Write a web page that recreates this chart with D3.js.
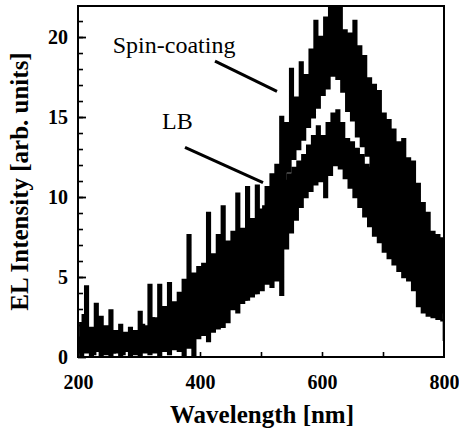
<!DOCTYPE html>
<html>
<head>
<meta charset="utf-8">
<script src="https://cdn.jsdelivr.net/npm/d3@7"></script>
<style>
  body { margin: 0; background: #fff; }
  svg { display: block; }
  .tick text { font-family: "Liberation Serif", "Times New Roman", serif; font-weight: bold; font-size: 20px; fill: #000; }
</style>
</head>
<body>
<div id="chart"></div>
<script>
// wavelength grid: 200..800 nm, 4 nm step
var wlStart = 200, wlStep = 4;

// EL intensity, spin-coated film
var spinValues = [
  0.3, 2.1, 0.6, 4.4, 0.9, 1.8, 0.2, 3.3, 0.8, 2.5,
  0.4, 1.9, 0.7, 2.9, 0.3, 1.6, 0.6, 2.0, 0.2, 1.5,
  0.5, 1.8, 0.3, 1.6, 0.8, 2.8, 0.4, 1.9, 1.0, 4.5,
  0.6, 2.4, 1.1, 4.5, 0.5, 3.1, 1.2, 4.6, 0.9, 3.4,
  1.4, 4.0, 1.1, 4.8, 1.6, 7.6, 1.3, 5.2, 2.0, 5.6,
  2.2, 5.8, 2.0, 9.0, 2.6, 6.4, 2.4, 7.6, 3.0, 9.4,
  2.8, 7.2, 3.4, 7.8, 3.2, 10.2, 3.8, 8.0, 3.6, 10.6,
  4.2, 8.6, 4.0, 10.7, 4.6, 9.2, 5.2, 10.6, 5.6, 11.4,
  6.6, 12.0, 7.8, 15.0, 10.4, 14.6, 11.6, 18.0, 12.4, 16.2,
  13.0, 18.4, 13.6, 17.6, 14.4, 19.2, 15.0, 21.0, 15.6, 20.0,
  16.4, 21.2, 16.8, 22.6, 17.6, 23.0, 17.4, 22.4, 16.6, 20.4,
  15.4, 20.2, 14.8, 21.0, 13.8, 19.4, 13.2, 18.8, 12.6, 17.4,
  10.6, 17.0, 10.4, 16.6, 9.8, 15.2, 9.4, 14.8, 8.6, 14.2,
  8.0, 13.4, 7.6, 13.6, 6.8, 12.4, 6.0, 12.2, 5.4, 10.8,
  4.6, 9.6, 4.0, 9.0, 3.4, 7.8, 3.0, 7.6, 2.8, 7.4,
  2.4
];

// LB film
var lbValues = [
  1.2, 0.1, 2.6, 0.3, 1.4, 0.0, 1.7, 0.4, 1.2, 0.1,
  1.5, 0.2, 1.1, 0.0, 1.6, 0.3, 1.2, 0.1, 1.4, 0.4,
  1.1, 0.0, 1.5, 0.2, 1.3, 0.1, 2.0, 0.3, 1.6, 0.2,
  2.4, 0.3, 1.8, 0.1, 2.6, 0.4, 2.2, 0.2, 3.0, 0.5,
  2.8, 0.4, 3.4, 0.0, 3.6, 0.6, 3.2, 0.0, 4.0, 1.2,
  4.4, 1.4, 4.6, 1.0, 5.2, 1.6, 5.0, 1.8, 5.8, 1.9,
  6.0, 2.2, 6.4, 3.0, 6.8, 2.8, 7.2, 3.4, 7.0, 3.6,
  7.6, 3.8, 8.2, 4.0, 9.0, 4.2, 9.4, 4.6, 9.8, 4.4,
  10.2, 4.8, 10.6, 3.9, 11.0, 6.8, 11.4, 7.8, 11.8, 8.6,
  12.2, 9.4, 12.6, 10.0, 13.2, 10.4, 13.8, 10.8, 14.4, 11.0,
  13.8, 10.0, 14.6, 11.4, 15.2, 12.0, 15.4, 11.8, 14.6, 11.2,
  13.6, 10.6, 13.4, 10.0, 13.0, 9.4, 12.6, 8.8, 12.0, 8.2,
  11.8, 7.6, 11.2, 7.2, 10.8, 6.6, 10.2, 6.2, 9.2, 5.8,
  9.0, 5.4, 8.6, 5.0, 8.0, 4.8, 7.6, 4.2, 7.2, 3.2,
  7.0, 2.8, 6.8, 2.6, 6.4, 2.5, 6.6, 2.4, 6.2, 2.3,
  1.0
];

var xTicks = [200, 400, 600, 800];
var yTicks = [0, 5, 10, 15, 20];

// labels with leader lines, in data units
var labels = [
  {text: "Spin-coating", wl: 257, val: 19.0, from: [424.6, 18.5], to: [526.2, 16.6]},
  {text: "LB", wl: 337.7, val: 14.25, from: [375.4, 13.1], to: [503.3, 10.9]}
];

var W = 459, H = 430;
var margin = {top: 6, right: 15, bottom: 73, left: 78};
var serif = '"Liberation Serif", "Times New Roman", serif';

var x = d3.scaleLinear().domain([200, 800]).range([margin.left, W - margin.right]);
var y = d3.scaleLinear().domain([0, 21.94]).range([H - margin.bottom, margin.top]);

var svg = d3.select("#chart").append("svg")
  .attr("width", W)
  .attr("height", H);

svg.append("clipPath").attr("id", "plot")
  .append("rect")
    .attr("x", x(200)).attr("y", y.range()[1])
    .attr("width", x(800) - x(200)).attr("height", y.range()[0] - y.range()[1]);

function toRows(values) {
  return values.map(function(v, i) { return {wl: wlStart + i * wlStep, v: v}; });
}

var line = d3.line()
  .x(function(d) { return x(d.wl); })
  .y(function(d) { return y(d.v); })
  .curve(d3.curveStepAfter);

[spinValues, lbValues].forEach(function(vals) {
  svg.append("path")
    .datum(toRows(vals))
    .attr("clip-path", "url(#plot)")
    .attr("fill", "none")
    .attr("stroke", "#000")
    .attr("stroke-width", 2.7)
    .attr("d", line);
});

// minor y ticks every unit
svg.append("g")
  .attr("transform", "translate(" + x(200) + ",0)")
  .call(d3.axisRight(y).tickValues(d3.range(1, 22)).tickSize(5).tickFormat(""))
  .call(function(g) { g.select(".domain").remove(); g.selectAll("line").attr("stroke-width", 1.6); });

// major y ticks + labels
svg.append("g")
  .attr("transform", "translate(" + x(200) + ",0)")
  .call(d3.axisLeft(y).tickValues(yTicks).tickSize(-8).tickPadding(10))
  .call(function(g) { g.select(".domain").remove(); g.selectAll("line").attr("stroke-width", 1.8); });

// x ticks + labels
svg.append("g")
  .attr("transform", "translate(0," + y(0) + ")")
  .call(d3.axisBottom(x).tickValues(xTicks).tickSize(0).tickPadding(18))
  .call(function(g) { g.select(".domain").remove(); });
svg.append("g")
  .attr("transform", "translate(0," + y(0) + ")")
  .call(d3.axisBottom(x).tickValues([300, 400, 500, 600, 700]).tickSize(-5).tickFormat(""))
  .call(function(g) { g.select(".domain").remove(); g.selectAll("line").attr("stroke-width", 1.6); });

// frame
svg.append("rect")
  .attr("x", x(200)).attr("y", y(21.94))
  .attr("width", x(800) - x(200)).attr("height", y(0) - y(21.94))
  .attr("fill", "none").attr("stroke", "#000").attr("stroke-width", 2);

// axis titles
svg.append("text")
  .attr("x", (x(200) + x(800)) / 2 + 1)
  .attr("y", 423)
  .attr("text-anchor", "middle")
  .style("font-family", serif).style("font-weight", "bold").style("font-size", "25px")
  .text("Wavelength [nm]");

svg.append("text")
  .attr("transform", "translate(28," + (y(0) + y(21.94)) / 2 + ") rotate(-90)")
  .attr("text-anchor", "middle")
  .style("font-family", serif).style("font-weight", "bold").style("font-size", "25px")
  .text("EL Intensity [arb. units]");

// annotations
labels.forEach(function(l) {
  svg.append("text")
    .attr("x", x(l.wl)).attr("y", y(l.val))
    .style("font-family", serif).style("font-size", "24px")
    .text(l.text);
  svg.append("line")
    .attr("x1", x(l.from[0])).attr("y1", y(l.from[1]))
    .attr("x2", x(l.to[0])).attr("y2", y(l.to[1]))
    .attr("stroke", "#000").attr("stroke-width", 3);
});
</script>
</body>
</html>
